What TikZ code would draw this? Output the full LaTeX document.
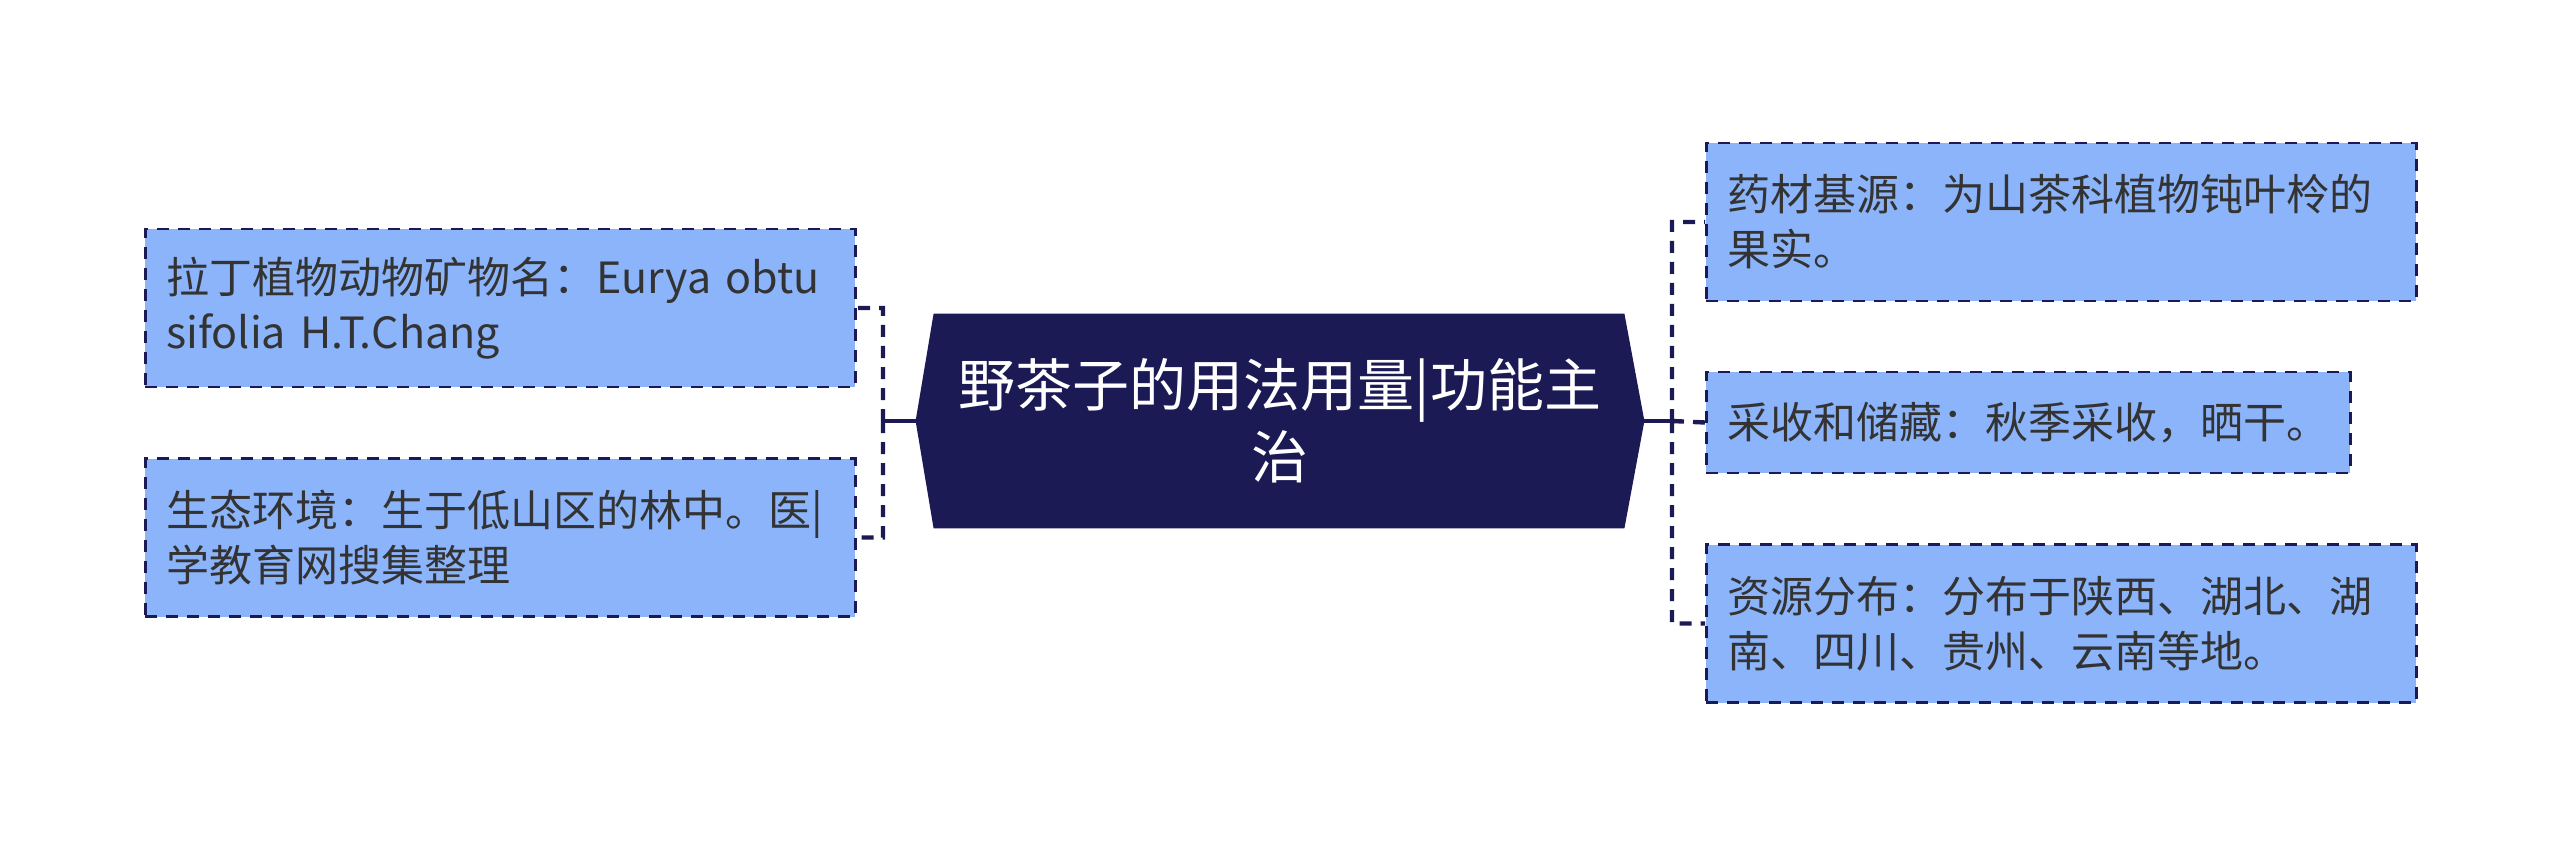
\documentclass[tikz,border=0pt]{standalone}
\usepackage{fontspec}
\setmainfont{Noto Sans CJK SC}
\usetikzlibrary{positioning, backgrounds}
\definecolor{navy}{HTML}{1B1A55}
\definecolor{leafblue}{HTML}{8CB4FA}
\definecolor{textgray}{HTML}{333333}
\newcommand{\leaffont}{\fontsize{21.5}{27.5}\selectfont}
\newcommand{\rootfont}{\fontsize{28.5}{36}\selectfont}

\begin{document}
\begin{tikzpicture}[x=0.5pt,y=-0.5pt]
    \tikzstyle{leaf}=[draw=navy, fill=leafblue, line width=1.4pt, dash pattern=on 6pt off 4.5pt,
      inner xsep=10.5pt, inner ysep=0pt, align=left, text=textgray, font=\leaffont,
      anchor=west, text width=334pt, minimum height=79pt]
    \tikzstyle{center}=[inner sep=0pt, align=center, text=white, font=\rootfont,
      minimum width=364pt, minimum height=107pt]
    \tikzstyle{trunk}=[draw=navy, line width=2.2pt]
    \tikzstyle{twig}=[draw=navy, line width=2.2pt, dash pattern=on 6pt off 4.5pt]

    \useasboundingbox (0,0) rectangle (2560,845);

    \node[center] (R) at (1280,421) {野茶子的用法用量|功能主\\治};
    \begin{pgfonlayer}{background}
      \fill[navy] (R.west) -- ([xshift=9pt]R.north west) -- ([xshift=-10pt]R.north east)
        -- (R.east) -- ([xshift=-10pt]R.south east) -- ([xshift=9pt]R.south west) -- cycle;
    \end{pgfonlayer}

    \node[leaf] (L1) at (144,308) {拉丁植物动物矿物名：Eurya obtu\\sifolia H.T.Chang};
    \node[leaf] (L2) at (144,537.5) {生态环境：生于低山区的林中。医|\\学教育网搜集整理};

    \node[leaf] (R1) at (1705,222) {药材基源：为山茶科植物钝叶柃的\\果实。};
    \node[leaf, text width=301pt, minimum height=50.5pt] (R2) at (1705,422.5) {采收和储藏：秋季采收，晒干。};
    \node[leaf] (R3) at (1705,623.5) {资源分布：分布于陕西、湖北、湖\\南、四川、贵州、云南等地。};

    \coordinate (lfork) at (883,421);
    \coordinate (rfork) at (1672,421);

    \path[trunk]
    (R.west) -- (lfork)
    (R.east) -- (rfork)
    ;
    \path[twig]
    (lfork) |- (L1.east)
    (lfork) |- (L2.east)
    (rfork) |- (R1.west)
    (rfork) -- (R2.west)
    (rfork) |- (R3.west)
    ;

\end{tikzpicture}
\end{document}
